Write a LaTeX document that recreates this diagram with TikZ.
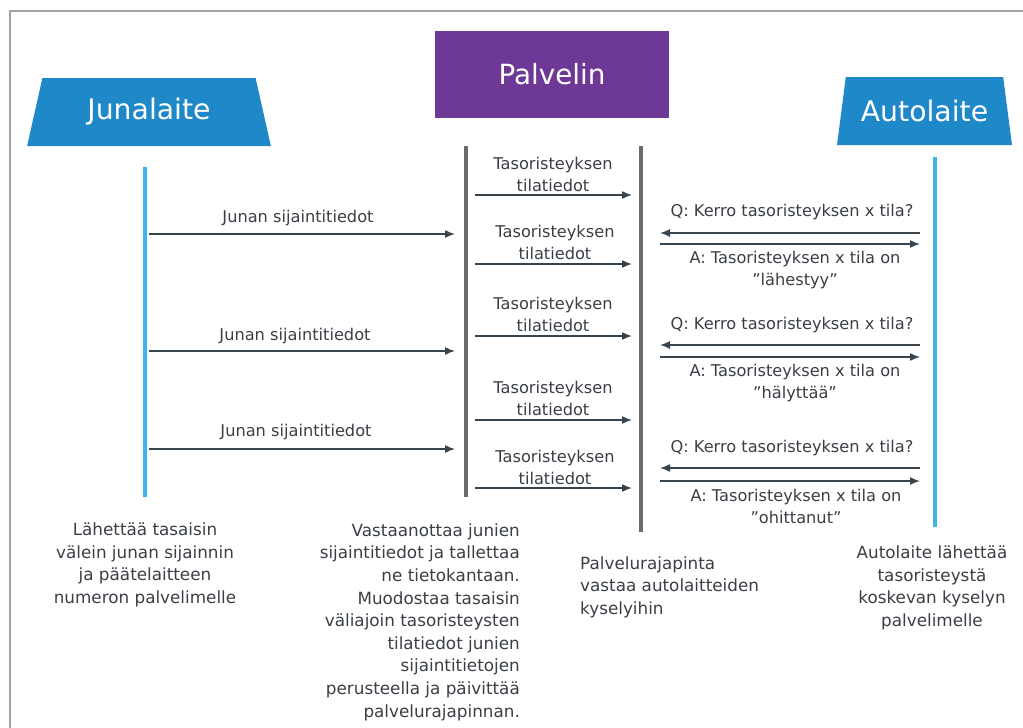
\documentclass[tikz,border=0pt]{standalone}
\usepackage{fontspec}
\setmainfont{DejaVu Sans}
\usetikzlibrary{arrows.meta,shapes.geometric}
\definecolor{devblue}{HTML}{1E88C8}
\definecolor{srvpurple}{HTML}{6E3996}
\definecolor{lifeblue}{HTML}{3FB4E8}
\definecolor{lifegrey}{HTML}{6B6B6B}
\definecolor{msgdark}{HTML}{37434D}
\definecolor{txt}{HTML}{3A3F45}
\definecolor{frame}{HTML}{A3A3A3}
\tikzset{
  device/.style={trapezium, trapezium stretches=true, fill=devblue, text=white,
    inner sep=0pt, font=\fontsize{28.3}{34}\selectfont},
  server/.style={fill=srvpurple, text=white, inner sep=0pt, font=\fontsize{27.8}{34}\selectfont},
  lifeb/.style={draw=lifeblue, line width=4pt},
  lifeg/.style={draw=lifegrey, line width=4pt},
  msg/.style={draw=msgdark, line width=1.5pt, -{Latex[length=10pt,width=8pt]}},
  lbl/.style={text=txt, inner sep=0pt, align=center, font=\fontsize{16.2}{22}\selectfont},
  desc/.style={text=txt, inner sep=0pt, font=\fontsize{16.8}{22.6}\selectfont},
}
\begin{document}
\begin{tikzpicture}[x=1pt,y=-1pt]
\useasboundingbox (0,0) rectangle (1023,728);
% outer frame
\draw[frame, line width=2pt] (10,729) -- (10,11) -- (1024,11);

% headers
\node[device, trapezium left angle=72, trapezium right angle=72,
  minimum width=244pt, minimum height=68pt] (juna) at (149,112) {\raisebox{-2pt}{Junalaite}};
\node[device, trapezium left angle=72, trapezium right angle=72,
  minimum width=175pt, minimum height=68pt] (auto) at (924.5,111) {\raisebox{-2pt}{Autolaite}};
\node[server, minimum width=234pt, minimum height=87pt] (palv) at (552,74.5) {Palvelin};

% lifelines
\coordinate (jT) at (145,167); \coordinate (jB) at (145,497);
\coordinate (sT) at (466,146); \coordinate (sB) at (466,497);
\coordinate (rT) at (641,146); \coordinate (rB) at (641,532);
\coordinate (aT) at (935,157); \coordinate (aB) at (935,527);
\draw[lifeb] (jT) -- (jB);
\draw[lifeg] (sT) -- (sB);
\draw[lifeg] (rT) -- (rB);
\draw[lifeb] (aT) -- (aB);

% train -> server
\foreach \i/\y in {1/234, 2/351, 3/449}{
  \coordinate (j\i) at (149,\y);
  \coordinate (s\i) at (455,\y);
  \draw[msg] (j\i) -- (s\i);
}
\node[lbl] (lj1) at (298,218) {Junan sijaintitiedot};
\node[lbl] (lj2) at (295,336) {Junan sijaintitiedot};
\node[lbl] (lj3) at (296,432) {Junan sijaintitiedot};

% server -> interface
\foreach \i/\y in {1/195, 2/264, 3/336, 4/420, 5/488}{
  \coordinate (p\i) at (475,\y);
  \coordinate (r\i) at (632,\y);
  \draw[msg] (p\i) -- (r\i);
}
\node[lbl] (lt1) at (553,174) {Tasoristeyksen\\tilatiedot};
\node[lbl] (lt2) at (555,242) {Tasoristeyksen\\tilatiedot};
\node[lbl] (lt3) at (553,314) {Tasoristeyksen\\tilatiedot};
\node[lbl] (lt4) at (553,398) {Tasoristeyksen\\tilatiedot};
\node[lbl] (lt5) at (555,467) {Tasoristeyksen\\tilatiedot};

% car <-> interface
\foreach \i/\q/\a in {1/233/244, 2/345/357, 3/468/481}{
  \coordinate (cq\i) at (920,\q); \coordinate (iq\i) at (660,\q);
  \coordinate (ia\i) at (660,\a); \coordinate (ca\i) at (920,\a);
  \draw[msg] (cq\i) -- (iq\i);
  \draw[msg] (ia\i) -- (ca\i);
}
\node[lbl] (q1) at (792,212) {Q: Kerro tasoristeyksen x tila?};
\node[lbl] (a1) at (795,270) {A: Tasoristeyksen x tila on\\”lähestyy”};
\node[lbl] (q2) at (792,325) {Q: Kerro tasoristeyksen x tila?};
\node[lbl] (a2) at (795,383) {A: Tasoristeyksen x tila on\\”hälyttää”};
\node[lbl] (q3) at (792,448) {Q: Kerro tasoristeyksen x tila?};
\node[lbl] (a3) at (796,506) {A: Tasoristeyksen x tila on\\”ohittanut”};

% descriptions
\node[desc, align=center] (dj) at (145,565)
  {Lähettää tasaisin\\välein junan sijainnin\\ja päätelaitteen\\numeron palvelimelle};
\node[desc, align=right, anchor=east] (ds) at (520,622)
  {Vastaanottaa junien\\sijaintitiedot ja tallettaa\\ne tietokantaan.\\Muodostaa tasaisin\\väliajoin tasoristeysten\\tilatiedot junien\\sijaintitietojen\\perusteella ja päivittää\\palvelurajapinnan.};
\node[desc, align=left, anchor=west] (dr) at (580,587)
  {Palvelurajapinta\\vastaa autolaitteiden\\kyselyihin};
\node[desc, align=center] (da) at (932,588)
  {Autolaite lähettää\\tasoristeystä\\koskevan kyselyn\\palvelimelle};
\end{tikzpicture}
\end{document}
